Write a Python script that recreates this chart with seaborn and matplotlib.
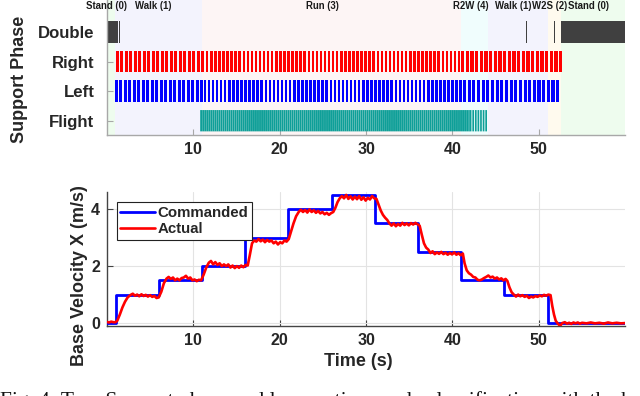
import seaborn as sns
import pandas as pd
import matplotlib.pyplot as plt
import numpy as np

# ---- locomotion phases (background bands)
PHASE_NAMES = ["Stand (0)", "Walk (1)", "Run (3)", "R2W (4)", "Walk (1)", "W2S (2)", "Stand (0)"]
PHASE_EDGES = [0.0, 0.9, 11.0, 41.0, 44.1, 51.0, 52.6, 60.0]
PHASE_LABEL_X = [0.0, 5.4, 25.0, 42.1, 47.0, 51.3, 55.7]

# ---- support phase rows
SUPPORT_ROWS = ["Double", "Right", "Left", "Flight"]

# double support: explicit intervals (start, width)
DOUBLE_START = [0.0, 1.42, 1.58, 48.55, 51.75, 51.95, 52.6]
DOUBLE_WIDTH = [1.3, 0.07, 0.07, 0.09, 0.08, 0.08, 7.4]

# periodic stance contacts: segment start, end, step period, duty
RIGHT_START = [1.05, 11.0, 41.0]
RIGHT_END = [11.0, 41.0, 52.75]
RIGHT_PERIOD = [0.52, 0.47, 0.54]
RIGHT_DUTY = [0.66, 0.62, 0.66]

LEFT_START = [0.93, 11.2, 41.2]
LEFT_END = [11.2, 41.2, 52.3]
LEFT_PERIOD = [0.52, 0.47, 0.54]
LEFT_DUTY = [0.66, 0.62, 0.66]

FLIGHT_START = [10.8, 42.0]
FLIGHT_END = [42.0, 44.1]
FLIGHT_PERIOD = [0.235, 0.3]
FLIGHT_DUTY = [0.93, 0.65]

# ---- base velocity
CMD_T = [0, 1, 6, 11, 16, 21, 26, 31, 36, 41, 46, 51, 60]
CMD_V = [0, 1.0, 1.5, 2.0, 3.0, 4.0, 4.5, 3.5, 2.5, 1.5, 1.0, 0.0, 0.0]

ACT_T = [0.0, 0.25, 0.5, 0.75, 1.0, 1.2,
         1.5, 1.8, 2.1, 2.4, 2.7,
         3.0, 3.25, 3.5, 3.75, 4.0, 4.25, 4.5, 4.75, 5.0, 5.25, 5.5, 5.75, 6.0,
         6.3, 6.6, 6.9,
         7.15, 7.4, 7.65, 7.9, 8.15, 8.4, 8.65, 8.9, 9.15, 9.4, 9.65, 9.9, 10.15, 10.4, 10.65, 10.9,
         11.2, 11.5, 11.8,
         12.05, 12.3, 12.55, 12.8, 13.05, 13.3, 13.55, 13.8, 14.05, 14.3, 14.55, 14.8, 15.05, 15.3, 15.55, 15.8, 16.05, 16.3,
         16.55, 16.8, 17.05,
         17.3, 17.55, 17.8, 18.05, 18.3, 18.55, 18.8, 19.05, 19.3, 19.55, 19.8, 20.05, 20.3, 20.55, 20.8, 21.05,
         21.3, 21.6, 21.9, 22.2,
         22.45, 22.7, 22.95, 23.2, 23.45, 23.7, 23.95, 24.2, 24.45, 24.7, 24.95, 25.2, 25.45, 25.7, 25.95, 26.2,
         26.45, 26.7, 26.95,
         27.2, 27.45, 27.7, 27.95, 28.2, 28.45, 28.7, 28.95, 29.2, 29.45, 29.7, 29.95, 30.2, 30.45, 30.7, 30.95, 31.2,
         31.45, 31.7, 31.95, 32.2, 32.45, 32.7,
         32.95, 33.2, 33.45, 33.7, 33.95, 34.2, 34.45, 34.7, 34.95, 35.2, 35.45, 35.7, 35.95, 36.2,
         36.45, 36.7, 36.95, 37.2,
         37.45, 37.7, 37.95, 38.2, 38.45, 38.7, 38.95, 39.2, 39.45, 39.7, 39.95, 40.2, 40.45, 40.7, 40.95, 41.2,
         41.4, 41.65, 41.9,
         42.15, 42.4, 42.65, 42.9, 43.15, 43.4, 43.65, 43.9, 44.15, 44.4, 44.65, 44.9, 45.15, 45.4, 45.65, 45.9, 46.15, 46.35,
         46.6, 46.85, 47.1,
         47.35, 47.6, 47.85, 48.1, 48.35, 48.6, 48.85, 49.1, 49.35, 49.6, 49.85, 50.1, 50.35, 50.6, 50.85, 51.1, 51.35,
         51.55, 51.75, 51.95, 52.2, 52.45, 52.7,
         53.0, 53.25, 53.5, 53.75, 54.0, 54.25, 54.5, 54.75, 55.0, 55.5, 56.0, 56.5, 57.0, 57.5, 58.0, 58.5, 59.0, 59.5, 60.0]
ACT_V = [0.04, 0.02, 0.05, 0.03, 0.03, 0.08,
         0.3, 0.55, 0.75, 0.9, 0.98,
         1.03, 0.96, 1.0, 0.94, 1.01, 0.95, 0.99, 0.93, 0.98, 0.92, 0.95, 0.88, 0.9,
         1.1, 1.4, 1.56,
         1.62, 1.55, 1.6, 1.5, 1.56, 1.5, 1.58, 1.6, 1.66, 1.56, 1.6, 1.5, 1.53, 1.47, 1.52, 1.5,
         1.7, 1.95, 2.12,
         2.18, 2.06, 2.14, 2.04, 2.1, 2.0, 2.06, 2.0, 2.06, 1.95, 2.02, 1.93, 2.0, 1.94, 2.02, 1.96, 2.04, 2.02,
         2.4, 2.8, 2.9,
         2.86, 2.95, 2.87, 2.93, 2.84, 2.92, 2.86, 2.9, 2.8, 2.86, 2.76, 2.84, 2.8, 2.9, 2.86, 2.95,
         3.2, 3.5, 3.75, 3.9,
         3.98, 3.9, 3.97, 3.88, 3.99, 3.9, 3.96, 3.87, 3.94, 3.85, 3.9, 3.82, 3.87, 3.8, 3.86, 3.9,
         4.05, 4.25, 4.38,
         4.46, 4.38, 4.5, 4.36, 4.45, 4.34, 4.44, 4.35, 4.46, 4.33, 4.42, 4.3, 4.4, 4.34, 4.46, 4.38, 4.36,
         4.15, 3.95, 3.8, 3.7, 3.62, 3.5,
         3.42, 3.5, 3.4, 3.48, 3.42, 3.52, 3.44, 3.5, 3.43, 3.51, 3.46, 3.52, 3.47, 3.42,
         3.1, 2.8, 2.65, 2.58,
         2.46, 2.52, 2.42, 2.48, 2.43, 2.5, 2.42, 2.47, 2.4, 2.46, 2.41, 2.48, 2.4, 2.45, 2.38, 2.44,
         2.1, 1.85, 1.75,
         1.7, 1.62, 1.6, 1.52, 1.5, 1.53, 1.58, 1.62, 1.67, 1.6, 1.63, 1.56, 1.6, 1.53, 1.57, 1.5, 1.55, 1.48,
         1.25, 1.08, 1.0,
         0.93, 1.0, 0.94, 0.98, 0.92, 0.96, 0.88, 0.93, 0.9, 0.95, 0.92, 0.97, 0.94, 0.99, 0.96, 1.0, 0.98,
         0.6, 0.3, 0.08, -0.02, -0.1, 0.0,
         0.03, -0.02, 0.01, -0.03, 0.02, -0.01, 0.02, -0.02, 0.01, -0.01, 0.02, -0.01, 0.01, -0.02, 0.02, -0.01, 0.01, -0.01, 0.0]

CAPTION = "Fig. 4: Top: Support phase and locomotion mode classification with the background colored"

BG_COLORS = ["#eefcee", "#f3f3fd", "#fdf5f5", "#f0fdfd", "#f3f3fd", "#fffaee", "#eefcee"]
ROW_COLORS = {"Double": "#404040", "Right": "#ff0000", "Left": "#0000ff", "Flight": "#0e9f98"}


def contacts(starts, ends, periods, duties):
    bars = []
    for s, e, p, d in zip(starts, ends, periods, duties):
        for t0 in np.arange(s, e - 1e-6, p):
            bars.append((t0, min(p * d, e - t0)))
    return bars


sns.set_theme(style="ticks")
plt.rcParams["font.family"] = ["Liberation Sans", "DejaVu Sans"]
plt.rcParams["font.weight"] = "bold"
plt.rcParams["axes.labelweight"] = "bold"

fig = plt.figure(figsize=(6.4, 3.96), dpi=100)
ax1 = fig.add_axes([0.167, 0.659, 0.81, 0.341])
ax2 = fig.add_axes([0.167, 0.177, 0.81, 0.338])

# ---- top: support phase
for i in range(len(PHASE_NAMES)):
    ax1.axvspan(PHASE_EDGES[i], PHASE_EDGES[i + 1], color=BG_COLORS[i], lw=0, zorder=0)
    ax1.text(PHASE_LABEL_X[i], 4.87, PHASE_NAMES[i], ha="center", va="center",
             fontsize=6.9, fontweight="bold", color="#1a1a1a")

row_y = {name: 4 - k for k, name in enumerate(SUPPORT_ROWS)}
bar_h = 0.72
rows = {
    "Double": list(zip(DOUBLE_START, DOUBLE_WIDTH)),
    "Right": contacts(RIGHT_START, RIGHT_END, RIGHT_PERIOD, RIGHT_DUTY),
    "Left": contacts(LEFT_START, LEFT_END, LEFT_PERIOD, LEFT_DUTY),
    "Flight": contacts(FLIGHT_START, FLIGHT_END, FLIGHT_PERIOD, FLIGHT_DUTY),
}
for name, bars in rows.items():
    ax1.broken_barh(bars, (row_y[name] - bar_h / 2, bar_h),
                    facecolors=ROW_COLORS[name], edgecolor="none", zorder=2,
                    snap=(name != "Flight"))

ax1.set_xlim(0, 60)
ax1.set_ylim(0.516, 5.08)
ax1.set_yticks([row_y[n] for n in SUPPORT_ROWS])
ax1.set_yticklabels(SUPPORT_ROWS)
ax1.set_xticks([10, 20, 30, 40, 50])
ax1.set_ylabel("Support Phase", fontsize=13)
ax1.yaxis.set_label_coords(-0.152, 0.41)
sns.despine(ax=ax1)

# ---- bottom: base velocity
cmd = pd.DataFrame({"t": CMD_T, "v": CMD_V})
act = pd.DataFrame({"t": ACT_T, "v": ACT_V})
sns.lineplot(data=cmd, x="t", y="v", ax=ax2, color="#0000ff", lw=2.0,
             drawstyle="steps-post", label="Commanded", zorder=3)
sns.lineplot(data=act, x="t", y="v", ax=ax2, color="#ff0000", lw=1.9,
             label="Actual", zorder=4)
ax2.set_xlim(0, 60)
ax2.set_ylim(-0.1, 4.6)
ax2.set_xticks([10, 20, 30, 40, 50])
ax2.set_yticks([0, 2, 4])
ax2.grid(True, color="#e3e3e3", lw=0.8)
ax2.set_xlabel("Time (s)", fontsize=13)
ax2.set_ylabel("Base Velocity X (m/s)", fontsize=13)
ax2.xaxis.set_label_coords(0.485, -0.2)
ax2.yaxis.set_label_coords(-0.037, 0.373)
sns.despine(ax=ax2)
leg = ax2.legend(loc="upper left", bbox_to_anchor=(0.019, 0.925), borderaxespad=0,
                 fancybox=False, framealpha=1, edgecolor="#222222",
                 handlelength=2.3, handletextpad=0.15, borderpad=0.25,
                 labelspacing=0.15, prop={"size": 10.8, "weight": "bold"})
leg.get_frame().set_linewidth(0.8)

for ax, sc in ((ax1, "#a8a8a8"), (ax2, "#444444")):
    for s in ("left", "bottom"):
        ax.spines[s].set_color(sc)
        ax.spines[s].set_linewidth(1.0)
    ax.tick_params(direction="in", length=4, width=0.8, color=sc,
                   labelsize=11.5, labelcolor="#262626", pad=5)
ax1.tick_params(axis="y", labelsize=12.1, pad=9)

fig.text(0.0, 1 - 391 / 396, CAPTION,
         family=["Liberation Serif", "DejaVu Serif"], fontsize=15.5, fontweight="normal",
         va="top", ha="left", color="#111111")

fig.savefig("out.png", dpi=100)
